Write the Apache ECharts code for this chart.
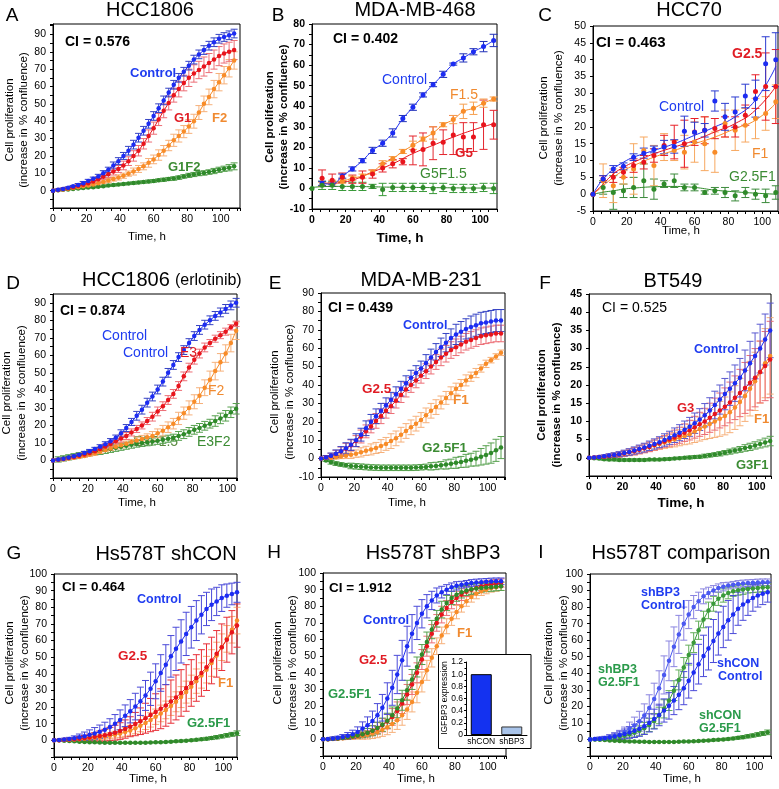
<!DOCTYPE html>
<html><head><meta charset="utf-8">
<script src="https://cdn.jsdelivr.net/npm/echarts/dist/echarts.min.js"></script>
<style>html,body{margin:0;padding:0;background:#fff}#c{width:779px;height:789px}</style>
</head><body><div id="c"></div>
<script>
// ---------- time bases ----------
const times3 = [0,3,6,9,12,15,18,21,24,27,30,33,36,39,42,45,48,51,54,57,60,63,66,69,72,75,78,81,84,87,90,93,96,99,102,105,108];
const timesD = [0,3,6,9,12,15,18,21,24,27,30,33,36,39,42,45,48,51,54,57,60,63,66,69,72,75,78,81,84,87,90,93,96,99,102,105];
const timesB = [6,12,18,24,30,36,42,48,54,60,66,72,78,84,90,96,102,108];
const times6 = [0,6,12,18,24,30,36,42,48,54,60,66,72,78,84,90,96,102,108];
const fitTimesB = [6,12,18,24,36,48,60,72,84,96,108];
const fitTimesB0 = [0,12,24,36,48,60,72,84,96,108];
const fitTimesC = [0,3,6,12,18,24,36,48,60,72,84,96,108];

// ---------- tick labels ----------
const xTickLabels = [0,20,40,60,80,100];
const yLabelsA = [0,10,20,30,40,50,60,70,80,90];
const yLabelsB = [-10,0,10,20,30,40,50,60,70,80];
const yLabelsC = [-5,0,5,10,15,20,25,30,35,40,45,50];
const yLabelsD = [0,10,20,30,40,50,60,70,80,90];
const yLabelsE = [-10,0,10,20,30,40,50,60,70,80,90];
const yLabelsF = [0,5,10,15,20,25,30,35,40,45];
const yLabelsGHI = [0,10,20,30,40,50,60,70,80,90,100];

// ---------- A: HCC1806 ----------
const aControl = [0,0.5,1,1.7,2.5,3.3,4.3,5.5,6.8,8.2,10,12,14.5,17,20,23,26.5,30.5,34.5,38.5,43,47.5,52,56.5,61,65,68.5,72,75.5,78.5,81,83.5,85.5,87.5,88.5,89.5,90.5];
const aControlErr = [0,0.5,0.5,0.5,0.5,0.8,1,1,1,1.2,1.5,1.5,2,2,2,2.5,2.5,2.5,2.5,2.5,2.5,2.5,2.5,2.5,2.5,2.5,2.5,2.5,2.5,2.5,2.5,2.5,2.5,2.5,2.5,2.5,2.5];
const aG1 = [0,0.4,0.9,1.4,2,2.7,3.4,4.3,5.3,6.5,8,9.5,11,12.5,14.5,17,20,23,27,31.5,36,41,46,50.5,55,58.5,62,65,67.5,69.5,71.5,73.5,75.5,77.5,79,80,81];
const aG1Err = [0,0.5,0.5,0.5,0.8,0.8,1,1,1.2,1.5,1.5,2,2,2,2.5,2.5,3,3,3,3.5,3.5,3.5,4,4,4,4.5,4.5,5,5,5,5.5,5.5,5.5,5.5,5.5,5.5,5.5];
const aF2 = [0,0.3,0.7,1.1,1.5,2,2.5,3,3.6,4.3,5,5.8,6.7,7.6,8.6,9.8,11,12.5,14,16,18,20.5,23,26,29,31.5,34,37,40,45,50,54,58.5,62.5,66.5,70.5,75];
const aF2Err = [0,0.5,0.5,0.5,0.5,0.5,0.8,0.8,1,1,1,1.2,1.2,1.5,1.5,1.5,2,2,2,2.5,2.5,3,3,3,3.5,3.5,3.5,4,4,4,4.5,4.5,5,5,5,5,5];
const aG1F2 = [0,0.2,0.5,0.7,1,1.2,1.5,1.8,2,2.3,2.6,2.9,3.2,3.5,3.8,4.1,4.4,4.7,5,5.3,5.6,6,6.3,6.7,7,7.5,8.2,8.8,9.3,9.8,10.2,10.7,11.3,12,12.6,13.2,14];
const aG1F2Err = [0,0.3,0.3,0.3,0.3,0.4,0.4,0.4,0.5,0.5,0.5,0.5,0.6,0.6,0.6,0.6,0.7,0.7,0.7,0.8,0.8,0.8,0.9,0.9,1,1,1,1.2,1.2,1.2,1.3,1.3,1.5,1.5,1.5,1.8,2];

// ---------- B: MDA-MB-468 ----------
const bControl = [2.5,2,6,9.5,13.5,18.5,22,27,34,39.5,45.5,50.5,55.5,60.5,63.5,66.5,69,72];
const bControlErr = [1,1,1,1,1,1.5,1.5,2,1.5,1.5,1,1,1.5,0.5,2,1.5,2.5,3];
const bF15 = [2,3,3.5,5,6,8,12,14.5,18,21,24,27,31,33.5,37.5,39,41.5,43.5];
const bF15Err = [1,1,1,1,1,1,1.5,1,1,2,1,3,1,2,3.5,3,2,1];
const bG5 = [5,4,5.5,4.5,5.5,7,10,12,13,18.5,19,22,22.5,26,25,25,31,31];
const bG5Err = [4,3,2,2,3,2,2,2,1.5,7,8,8,6,9.5,7,7,12,7];
const bG5Fit = [2.5,2.5,3,4,8,12,17,21,25,28.5,31.5];
const bGF = [0,1.5,1.5,1,1,1,1,-0.5,0.5,0.5,0.5,0.5,0,0.5,0,0,0,0.5,0];
const bGFErr = [0,2,2,2,2,2,1,3,2,2,2,2,2.5,2,2,2,2,2,2.5];
const bGFFit = [0.5,1,1,0.8,0.6,0.5,0.4,0.3,0.2,0.2];

// ---------- C: HCC70 ----------
const cControl = [0,4.5,7.5,8.3,11,12.2,13.3,14,14.2,18.7,18.4,19,27.7,23,24.4,29.2,28.4,38.8,40];
const cControlErr = [0,1,1,1,1,1.5,1,2,2,4.5,3,2,3,4,4.5,3.5,5.5,8,8];
const cControlFit = [0,2.5,4.5,7.5,9.5,11,13,15,17.5,20,23,28,38];
const cG2 = [0,4.5,5,6.5,8.5,9.5,11.5,14.5,15.5,15,18.5,19,19.5,20,20,23.5,30.5,32,32];
const cG2Err = [0,1,1.5,1.5,2,2,2,3,5,7,4,4,3,3,3,3,5,10,11];
const cG2Fit = [0,1.5,3,6,8,9.5,12,14,16,18.5,21,25,32];
const cF1 = [0,4,2.5,5,7.5,13,8.5,14,13,12.5,15.5,15,12.5,21,19,20.5,22.5,24,27.5];
const cF1Err = [0,5,5,2,7.5,4,6,4,3,5,6,8,6,4,6,5,6,5,5];
const cF1Fit = [0,1.2,2.5,5,7,8.5,11,13,15,17,19.5,22,27];
const cGF = [0,2,0.5,1,2,4,1.5,3,4,2,2,0.5,1,0.5,-0.5,0.5,0,-0.5,0.5];
const cGFErr = [0,2,5,2,3,5,3,1,2,1,1,0.5,1,1.5,1.5,1.5,1.5,2,2];
const cGFFit = [0,0.3,0.6,1,1.5,1.8,2.2,2.3,2,1.2,0.7,0.3,0];

// ---------- D: HCC1806 (erlotinib) ----------
const dControl = [0,0.5,1,1.7,2.4,3.2,4.2,5.3,6.5,7.8,9.2,11,13,15.5,18.5,22,25.5,29,33,36.5,40.5,45,50,54.5,59,63,67,71,74.5,77.5,80,82.5,84.5,86.5,88.5,90];
const dControlErr = [0,0.5,0.5,0.5,0.8,0.8,1,1,1,1.2,1.5,1.5,1.5,2,2,2,2.5,2.5,2.5,2.5,2.5,2.5,2.5,2.5,2.5,2.5,2.5,2.5,2.5,2.5,2.5,2.5,2.5,2.5,2.5,2.5];
const dE3 = [0,0.4,0.9,1.4,2,2.7,3.4,4.3,5.3,6.5,8,9.4,11,12.5,14,16,18,20,22.5,25,28,31,34.5,38,42.5,48,53,57.5,61,64.5,67,69.5,71.5,73.5,76,78];
const dE3Err = [0,0.5,0.5,0.5,0.8,0.8,1,1,1,1.2,1.5,1.5,1.5,2,2,2,2,2,2,2.5,2.5,2.5,2.5,2.5,2.5,2.5,2.5,2.5,2.5,2.5,2,2,2,2,1.5,1.5];
const dF2 = [0,0.3,0.7,1.1,1.5,2,2.6,3.3,4,5,6,6.9,7.8,8.7,9.6,10.5,11.4,12.3,13.2,14,15.5,17,19,21,24,27,30,33.5,37,41.5,46,51,56,61,67,74];
const dF2Err = [0,0.5,0.5,0.5,0.5,0.5,0.8,0.8,1,1,1,1.2,1.2,1.5,1.5,1.5,2,2,2,2.5,2.5,3,3,3,3.5,3.5,4,4,4.5,4.5,5,5,5,5,5,5];
const dE3F2 = [0,0.6,1.2,1.8,2.4,3,3.6,4.2,4.8,5.4,6,6.6,7.2,7.8,8.4,9,9.6,10,10.4,10.8,11.2,11.8,12.4,13,14,15,16.3,17.5,18.6,19.8,21,22.5,24,25.5,27.5,29.5];
const dE3F2Err = [0,1.5,1.5,1.5,1.5,1.5,1.5,1.5,1.5,2,2,2,2,2,2,2,2,2,2,2,2,2,2,2,2.5,2.5,2.5,2.5,2.5,2.5,2.5,3,3,3,3,3];

// ---------- E: MDA-MB-231 ----------
const eControl = [0,0.6,1.5,2.7,4,5.6,7.5,10,13,16.5,20,23,26,29,32,35,38,41,44,46.5,49,52,55,58,60.5,63,65.5,67.5,69,70.5,71.5,72.5,73.5,74,74.5,75,75];
const eControlErr = [0,1,1.5,2,2.5,3,3,3.5,3.5,4,4,4,4,4,4,4,4,4,4,4,4,4.5,4.5,4.5,5,5,5,5.5,5.5,5.5,6,6,6,6,6,6,6];
const eG25 = [0,0.6,1.4,2.5,3.8,5.3,7.2,9.5,12,14.8,17.5,20.5,23,26,28.5,31.5,34.5,37.5,40,42.5,45,47.5,50,52.5,55,57,59,60.5,62,63.5,64.5,65.5,66.5,67,67.5,68,68];
const eG25Err = [0,1,1.5,2,2.5,3,3,3,3.5,3.5,3.5,4,4,4,4,4,4,4,4,4,4,4,4,4,4.5,4.5,4.5,4.5,4.5,4.5,4.5,4.5,4.5,4.5,4.5,4.5,4.5];
const eF1 = [0,0.3,0.5,0.8,1.2,1.6,2.1,2.7,3.4,4.2,5,5.8,6.8,8,9.5,11,13,15,17,19,21,23.5,26,28,30.5,33,35.5,38,40,42.5,44.5,46.5,49,51.5,53.5,55.5,57.5];
const eF1Err = [0,0.5,0.8,1,1.2,1.5,2,2,2.5,2.5,3,3,3.5,3.5,4,4,4,4,4,4,4,4,4,4,3.5,3.5,3.5,3,3,3,2.5,2.5,2,2,1.5,1.5,1.5];
const eG25F1 = [0,-1,-2,-2.7,-3.2,-3.6,-4,-4.2,-4.4,-4.6,-4.8,-4.9,-5,-5,-5,-5,-5,-5,-5,-4.9,-4.7,-4.5,-4.2,-4,-3.6,-3.2,-2.8,-2.3,-1.8,-1.2,-0.6,0,1,2,3,4.5,6];
const eG25F1Err = [0,0.5,1,1,1,1,1.5,1.5,1.5,1.5,1.5,1.5,1.5,1.5,1.5,1.5,1.5,1.5,1.5,1.5,1.5,1.5,2,2,2,2.5,2.5,3,3,3.5,3.5,4,4.5,5,5.5,6,6];

// ---------- F: BT549 ----------
const fControl = [0,0.1,0.2,0.4,0.6,0.8,1,1.3,1.6,2,2.4,2.8,3.3,3.8,4.3,4.9,5.5,6.2,6.9,7.7,8.5,9.5,10.5,11.7,13,14.5,16,17.5,19,20.5,22,24,26,28,30,32.5,35];
const fControlErr = [0,0.2,0.3,0.4,0.5,0.6,0.7,0.8,0.9,1,1.1,1.2,1.3,1.4,1.5,1.7,1.8,2,2.2,2.4,2.6,2.8,3,3.2,3.5,3.8,4,4.3,4.6,5,5.3,5.6,6,6.3,6.7,7,7.5];
const fG3 = [0,0.1,0.2,0.3,0.5,0.7,0.9,1.2,1.5,1.8,2.2,2.6,3,3.5,4,4.5,5,5.6,6.2,6.9,7.6,8.4,9.2,10,11,12,13,14,15.2,16.5,17.8,19.2,20.6,22,23.6,25.2,27];
const fG3Err = [0,0.2,0.3,0.4,0.5,0.6,0.7,0.8,0.9,1,1.1,1.2,1.3,1.4,1.5,1.6,1.8,2,2.2,2.4,2.7,3,3.3,3.6,4,4.4,4.8,5.2,5.6,6,6.5,7,7.5,8,8.5,9.5,10.5];
const fF1 = [0,0.1,0.2,0.3,0.5,0.7,0.9,1.2,1.5,1.8,2.2,2.6,3,3.4,3.8,4.2,4.6,5,5.5,6,6.5,7.2,7.9,8.6,9.3,10,10.7,11.5,12.5,13.8,15.3,17,19,21,23.5,26,28];
const fF1Err = [0,0.2,0.3,0.4,0.5,0.6,0.7,0.8,0.9,1,1.1,1.2,1.3,1.4,1.5,1.6,1.8,2,2.2,2.4,2.7,3,3.3,3.6,4,4.4,4.8,5.2,5.6,6,6.5,7,7.5,8,8.5,9.5,10.5];
const fG3F1 = [0,-0.1,-0.2,-0.4,-0.5,-0.5,-0.6,-0.6,-0.6,-0.6,-0.6,-0.6,-0.5,-0.5,-0.5,-0.4,-0.3,-0.2,-0.1,0,0.1,0.2,0.3,0.5,0.7,0.9,1.1,1.4,1.7,2,2.3,2.7,3,3.4,3.8,4.2,4.6];
const fG3F1Err = [0,0.3,0.3,0.3,0.3,0.3,0.3,0.3,0.3,0.3,0.3,0.3,0.3,0.3,0.3,0.3,0.3,0.3,0.3,0.3,0.4,0.4,0.4,0.5,0.5,0.5,0.6,0.6,0.7,0.7,0.8,0.9,1,1,1.1,1.2,1.3];

// ---------- G: Hs578T shCON ----------
const gControl = [0,0.2,0.5,0.8,1.2,1.8,2.5,3.3,4.2,5.2,6.4,8,10,12.3,14.8,17.5,20.3,23.5,27,31,35.5,40.5,45.5,50.5,55,59.5,64,68,72,75.5,79,81.5,83.5,85.5,87,88,89];
const gControlErr = [0,0.5,0.8,1,1.5,2,2.5,3,3.5,4,4.5,5,5.5,6,6.5,7,8,8.5,9,10,10.5,11,12,12.5,13,13,13,12.5,12,11.5,10,9.5,8.5,8,7,6.5,6];
const gG25 = [0,0.1,0.3,0.5,0.7,1,1.3,1.7,2.1,2.6,3.1,3.8,4.6,5.6,6.8,8.2,9.8,11.5,13.3,15.2,17,19,21,23.3,25.8,28.5,31.5,34.5,37.5,40.5,44,48,52,56,60.5,65,69];
const gG25Err = [0,0.3,0.5,0.8,1,1.3,1.6,2,2.5,3,3.5,4,4.5,5,5.5,6,7,8,9,10,11,12,12.5,13,13.5,14,14,14,14,14,14,14,14,14,13.5,13,13];
const gF1 = [0,0.1,0.2,0.3,0.5,0.7,0.9,1.2,1.5,1.9,2.3,2.8,3.4,4.1,5,6,7.3,8.8,10.5,12.3,14.2,16.2,18.3,20.6,23.2,26,29,32.2,35.6,39,42.5,46.5,51,56,61,66.5,72];
const gF1Err = [0,0.2,0.3,0.4,0.5,0.6,0.8,1,1.2,1.4,1.6,1.8,2,2.3,2.6,3,3.3,3.6,4,4.3,4.6,5,5.3,5.6,6,6.3,6.6,7,7.3,7.6,8,8,8,8,8,8,8];
const gG25F1 = [0,0,-0.2,-0.4,-0.6,-0.8,-1,-1.1,-1.2,-1.3,-1.4,-1.4,-1.5,-1.5,-1.5,-1.5,-1.5,-1.5,-1.4,-1.3,-1.2,-1.1,-1,-0.8,-0.6,-0.4,-0.2,0,0.3,0.6,1,1.4,1.9,2.4,3,3.6,4.3];
const gG25F1Err = [0,0.3,0.3,0.3,0.3,0.3,0.3,0.3,0.3,0.3,0.3,0.3,0.3,0.3,0.3,0.3,0.3,0.3,0.3,0.3,0.3,0.4,0.4,0.4,0.5,0.5,0.5,0.6,0.6,0.7,0.8,0.9,1,1,1.1,1.2,1.4];

// ---------- H: Hs578T shBP3 ----------
const hControl = [0,0.2,0.5,0.9,1.4,2.1,3,4.5,6.5,8.5,11,14.5,19,24.5,31,39,47.5,56,63.5,70,75.5,80,83.5,86.5,88.5,90,91.5,92.3,93,93.5,94,94.3,94.5,94.7,94.9,95,95];
const hControlErr = [0,0.5,1,1,1.5,2,2.5,3,4,5,6,7,8,9.5,10.5,11.5,12,12,11.5,10,8.5,7,5.5,4.5,3.5,3,2.5,2.5,2,2,2,2,2,2,2,2,2];
const hG25 = [0,0.1,0.3,0.5,0.8,1.2,1.7,2.3,3,4,5.2,6.7,8.5,10.8,13.5,17,21.5,27,33,40,48,56,63.5,70,75,79,82.5,85,87,88.8,90,91,92,92.7,93.2,93.6,94];
const hG25Err = [0,0.3,0.5,0.5,0.8,1,1.2,1.5,2,2.5,3,3.5,4,4.5,5,5.5,6,6,6,6,6,6,5.5,5,5,4.5,4,4,3.5,3,3,3,2.5,2.5,2.5,2.5,2.5];
const hF1 = [0,0.1,0.2,0.4,0.6,0.9,1.2,1.6,2.1,2.7,3.5,4.5,5.8,7.3,9.2,11.5,14.5,18,22.5,28,34.5,41.5,49,56,62.5,68,72.5,76.5,80,83,85.5,87.5,89,90,91,91.5,92];
const hF1Err = [0,0.3,0.5,0.5,0.8,1,1.2,1.5,2,2.5,3,3.5,4,4.5,5,5.5,6,6,6,6,6,6,5.5,5,5,4.5,4,4,3.5,3,3,3,2.5,2.5,2.5,2.5,2.5];
const hG25F1 = [0,0.1,0.3,0.5,0.8,1.2,1.7,2.3,3,4,5.2,6.8,8.8,11.2,14.5,18.5,23.5,29.5,36,43.5,51,58.5,66,72.5,78,82,85,87,88.5,89.5,90.2,90.7,91,91.3,91.5,91.8,92];
const hG25F1Err = [0,0.3,0.5,0.5,0.8,1,1.2,1.5,2,2.5,3,3.5,4,4.5,5,5.5,6,6,6,6,6,6,5.5,5,5,4.5,4,4,3.5,3,3,3,2.5,2.5,2.5,2.5,2.5];

// ---------- H inset ----------
const insetCats = ['shCON','shBP3'];
const insetVals = [1.0, 0.14];
const insetTicks = [0,0.2,0.4,0.6,0.8,1.0,1.2];

const FONT = '"Liberation Sans", Arial, Helvetica, sans-serif';
const BLUE='#1c2cf2', RED='#e8141c', ORANGE='#f88c28', GREEN='#2f8a2a';
const BLUE_E='#3442c4', RED_E='#ec6e76', ORANGE_E='#f6b07a', GREEN_E='#56a04e';
const T_BLUE='#1f3cf0', T_RED='#e01c24', T_ORANGE='#f08a30', T_GREEN='#3c8c34';

// grid layout: [left, top, width, height, xMax, yMin, yMax, yLabels, bold]
const layout = [
  [53,24,187,184,111.5,-10,96,yLabelsA,false],
  [312,24,185,185,110,-10,80,yLabelsB,true],
  [593,26,185,185,109.3,-5,50,yLabelsC,false],
  [53,294,184,184,105.5,-10,95,yLabelsD,false],
  [321,293,184,184,110.4,-10,90,yLabelsE,false],
  [589,294,182,182,108.5,-5,45,yLabelsF,true],
  [54,574,183,183,108,-10,100,yLabelsGHI,false],
  [323,573,183,183,111,-10,100,yLabelsGHI,false],
  [590,574,181,182,110,-10,100,yLabelsGHI,false]
];

const grids=[], xAxes=[], yAxes=[], series=[];
const near = (arr,v)=>arr.some(l=>Math.abs(l-v)<1e-6);
layout.forEach((L,i)=>{
  grids.push({left:L[0],top:L[1],width:L[2],height:L[3],show:true,borderColor:'#000',borderWidth:1,backgroundColor:'transparent',containLabel:false,outerBoundsMode:'none'});
  xAxes.push({gridIndex:i,type:'value',min:0,max:L[4],interval:5,
    axisLine:{show:true,onZero:false,lineStyle:{color:'#000',width:1}},
    axisTick:{show:true,length:3,lineStyle:{color:'#000',width:1}},
    axisLabel:{show:true,color:'#000',fontSize:10.5,fontWeight:L[8]?'bold':'normal',fontFamily:FONT,margin:6,
      formatter:v=>near(xTickLabels,v)?String(Math.round(v)):'' ,showMaxLabel:true,showMinLabel:true},
    splitLine:{show:false}});
  yAxes.push({gridIndex:i,type:'value',min:L[5],max:L[6],interval:5,
    axisLine:{show:true,onZero:false,lineStyle:{color:'#000',width:1}},
    axisTick:{show:true,length:3,lineStyle:{color:'#000',width:1}},
    axisLabel:{show:true,color:'#000',fontSize:10.5,fontWeight:L[8]?'bold':'normal',fontFamily:FONT,margin:7,
      formatter:v=>near(L[7],v)?String(Math.round(v)):'',showMaxLabel:true,showMinLabel:true},
    splitLine:{show:false}});
});
// inset grid (index 9)
grids.push({left:466,top:662,width:61,height:73,show:false,containLabel:false,outerBoundsMode:'none'});
xAxes.push({gridIndex:9,type:'category',data:insetCats,z:60,
  axisLine:{show:true,lineStyle:{color:'#000',width:1}},axisTick:{show:false},
  axisLabel:{color:'#000',fontSize:8.5,fontFamily:FONT,margin:2,interval:0},splitLine:{show:false}});
yAxes.push({gridIndex:9,type:'value',min:0,max:1.2,interval:0.2,z:60,
  axisLine:{show:true,lineStyle:{color:'#000',width:1}},
  axisTick:{show:true,length:2,lineStyle:{color:'#000'}},
  minorTick:{show:true,splitNumber:2,length:1.5,lineStyle:{color:'#000'}},
  axisLabel:{color:'#000',fontSize:8.5,fontFamily:FONT,margin:3,
    formatter:v=>{const r=Math.round(v*10)/10; return near(insetTicks,r)?(r===0?'0':r.toFixed(1)):'';}},
  splitLine:{show:false}});

function errSeries(gi,t,v,e,ecol,cap,z){
  series.push({type:'custom',xAxisIndex:gi,yAxisIndex:gi,dimensions:['t','v','e'],encode:{x:'t',y:'v'},
    data:t.map((x,i)=>[x,v[i],e[i]||0]),z:z||2,silent:true,animation:false,
    renderItem:function(params,api){
      const x=api.value(0),y=api.value(1),er=api.value(2);
      if(!er) return null;
      const a=api.coord([x,y+er]),b=api.coord([x,y-er]);
      const st={stroke:ecol,lineWidth:1,fill:null};
      return {type:'group',children:[
        {type:'line',shape:{x1:a[0],y1:a[1],x2:b[0],y2:b[1]},style:st},
        {type:'line',shape:{x1:a[0]-cap,y1:a[1],x2:a[0]+cap,y2:a[1]},style:st},
        {type:'line',shape:{x1:b[0]-cap,y1:b[1],x2:b[0]+cap,y2:b[1]},style:st}]};
    }});
}
function lineSeries(gi,t,v,col,o){ o=o||{};
  series.push({type:'line',xAxisIndex:gi,yAxisIndex:gi,data:t.map((x,i)=>[x,v[i]]),
    symbol:o.noSym?'none':'circle',symbolSize:o.ss||4.5,showSymbol:!o.noSym,showAllSymbol:true,
    smooth:o.smooth||false,itemStyle:{color:col},lineStyle:{color:o.lc||col,width:o.lw||1},
    z:o.z||3,silent:true,animation:false});
}
function scatterSeries(gi,t,v,col,ss,z){
  series.push({type:'scatter',xAxisIndex:gi,yAxisIndex:gi,data:t.map((x,i)=>[x,v[i]]),symbol:'circle',symbolSize:ss||5,
    itemStyle:{color:col,opacity:1},z:z||4,silent:true,animation:false});
}
function dense(gi,t,v,e,col,ecol,cap,ss){ errSeries(gi,t,v,e,ecol,cap||3.5); lineSeries(gi,t,v,col,{ss:ss||4.5}); }

// A
dense(0,times3,aG1F2,aG1F2Err,GREEN,GREEN_E);
dense(0,times3,aF2,aF2Err,ORANGE,ORANGE_E);
dense(0,times3,aG1,aG1Err,RED,RED_E);
dense(0,times3,aControl,aControlErr,BLUE,BLUE_E);
// B
errSeries(1,times6,bGF,bGFErr,'#3a9a3a',4);
lineSeries(1,fitTimesB0,bGFFit,GREEN,{noSym:true,smooth:true});
scatterSeries(1,times6,bGF,GREEN,5);
errSeries(1,timesB,bG5,bG5Err,'#e4262e',4);
lineSeries(1,fitTimesB,bG5Fit,RED,{noSym:true,smooth:true});
scatterSeries(1,timesB,bG5,RED,5);
errSeries(1,timesB,bF15,bF15Err,'#f6a050',4);
lineSeries(1,timesB,bF15,ORANGE,{smooth:0.4,ss:5});
errSeries(1,timesB,bControl,bControlErr,'#2030b8',4);
lineSeries(1,timesB,bControl,BLUE,{smooth:0.4,ss:5});
// C
errSeries(2,times6,cGF,cGFErr,'#3a8a3a',4);
errSeries(2,times6,cF1,cF1Err,'#f7a860',4);
errSeries(2,times6,cG2,cG2Err,'#e82028',4);
errSeries(2,times6,cControl,cControlErr,'#2a3ad0',4);
lineSeries(2,fitTimesC,cGFFit,GREEN,{noSym:true,smooth:true});
lineSeries(2,fitTimesC,cF1Fit,ORANGE,{noSym:true,smooth:true});
lineSeries(2,fitTimesC,cG2Fit,RED,{noSym:true,smooth:true});
lineSeries(2,fitTimesC,cControlFit,BLUE,{noSym:true,smooth:true});
scatterSeries(2,times6,cGF,GREEN,5);
scatterSeries(2,times6,cF1,ORANGE,5);
scatterSeries(2,times6,cG2,RED,5);
scatterSeries(2,times6,cControl,BLUE,5);
// D
dense(3,timesD,dE3F2,dE3F2Err,GREEN,GREEN_E);
dense(3,timesD,dF2,dF2Err,ORANGE,ORANGE_E);
dense(3,timesD,dE3,dE3Err,RED,RED_E);
dense(3,timesD,dControl,dControlErr,BLUE,BLUE_E);
// E
dense(4,times3,eG25F1,eG25F1Err,GREEN,GREEN_E);
dense(4,times3,eF1,eF1Err,ORANGE,ORANGE_E);
dense(4,times3,eG25,eG25Err,RED,RED_E);
dense(4,times3,eControl,eControlErr,BLUE,BLUE_E);
// F
dense(5,times3,fG3F1,fG3F1Err,GREEN,GREEN_E);
dense(5,times3,fF1,fF1Err,ORANGE,ORANGE_E);
dense(5,times3,fG3,fG3Err,RED,RED_E);
dense(5,times3,fControl,fControlErr,BLUE,'#5a5ad0');
// G
dense(6,times3,gG25F1,gG25F1Err,GREEN,GREEN_E);
dense(6,times3,gF1,gF1Err,ORANGE,ORANGE_E);
dense(6,times3,gG25,gG25Err,RED,'#e83038');
dense(6,times3,gControl,gControlErr,BLUE,'#4a4ad8');
// H
dense(7,times3,hF1,hF1Err,ORANGE,ORANGE_E);
dense(7,times3,hG25,hG25Err,RED,RED_E);
dense(7,times3,hG25F1,hG25F1Err,GREEN,GREEN_E);
dense(7,times3,hControl,hControlErr,BLUE,'#4a4ad8');
// I (same experiments as G and H)
dense(8,times3,gG25F1,gG25F1Err,GREEN,GREEN_E);
dense(8,times3,hG25F1,hG25F1Err,'#3a9a3a','#62ad5a');
dense(8,times3,hControl,hControlErr,'#4a58f0','#8a84e0');
dense(8,times3,gControl,gControlErr,BLUE,'#4a4ad8');
// inset bars
series.push({type:'bar',xAxisIndex:9,yAxisIndex:9,barWidth:21,z:60,silent:true,animation:false,
  data:[{value:insetVals[0],itemStyle:{color:'#1432f0',borderColor:'#000',borderWidth:1}},
        {value:insetVals[1],itemStyle:{color:'#a9c4ea',borderColor:'#333',borderWidth:1}}]});

// ---------- texts ----------
const G=[];
function T(x,y,s,o){o=o||{};
  G.push({type:'text',x:x,y:y,rotation:o.rot||0,z:o.z!=null?o.z:100,silent:true,
    style:{text:s,fill:o.c||'#000',fontSize:o.fs||12,fontWeight:o.w||'normal',fontFamily:FONT,
      align:o.a||'left',verticalAlign:'middle'}});}
// inset box
G.push({type:'rect',shape:{x:438.5,y:654.5,width:92.5,height:94},style:{fill:'#fff',stroke:'#000',lineWidth:1},z:50,silent:true});
T(445,698,'IGFBP3 expression',{rot:Math.PI/2,a:'center',fs:8.5,z:61});

// panel letters
[['A',12,16],['B',278,16],['C',545,16],['D',13,284],['E',275,284],['F',545,284],['G',14,554],['H',274,553],['I',541,553]]
  .forEach(l=>T(l[1],l[2],l[0],{a:'center',fs:19}));
// titles
T(150,10,'HCC1806',{a:'center',fs:20});
T(415,10,'MDA-MB-468',{a:'center',fs:20});
T(689,10,'HCC70',{a:'center',fs:20});
T(82,280,'HCC1806',{fs:20});
T(175,281,'(erlotinib)',{fs:16});
T(421,280,'MDA-MB-231',{a:'center',fs:20});
T(673,281,'BT549',{a:'center',fs:20});
T(166,554,'Hs578T shCON',{a:'center',fs:20});
T(433,553,'Hs578T shBP3',{a:'center',fs:20});
T(681,553,'Hs578T comparison',{a:'center',fs:20});
// axis names
const yName=[[10,24,120,false],[270,284,117,true],[544,559,118,false],[7,22,393,false],[275,290,392,false],[542,557,395,true],[10,25,663,false],[278,293,663,false],[549,564,663,false]];
yName.forEach(p=>{T(p[0],p[2],'Cell proliferation',{rot:Math.PI/2,a:'center',fs:11.5,w:p[3]?'bold':'normal'});
  T(p[1],p[2],'(increase in % confluence)',{rot:Math.PI/2,a:'center',fs:11.5,w:p[3]?'bold':'normal'});});
const xName=[[147,237,false],[400,238,true],[681,231,false],[137,503,false],[407,503,false],[681,503,true],[148,779,false],[416,779,false],[682,779,false]];
xName.forEach(p=>T(p[0],p[1],'Time, h',{a:'center',fs:p[2]?13.5:11.5,w:p[2]?'bold':'normal'}));
// CI
T(65,42,'CI = 0.576',{fs:14,w:'bold'});
T(333,39,'CI = 0.402',{fs:14,w:'bold'});
T(596,43,'CI = 0.463',{fs:15,w:'bold'});
T(60,311,'CI = 0.874',{fs:14,w:'bold'});
T(328,308,'CI = 0.439',{fs:14,w:'bold'});
T(602,308,'CI = 0.525',{fs:14});
T(62,587,'CI = 0.464',{fs:13.5,w:'bold'});
T(329,588,'CI = 1.912',{fs:13.5,w:'bold'});
// series labels
T(130,73,'Control',{c:T_BLUE,fs:13,w:'bold'});
T(174,118,'G1',{c:T_RED,fs:13,w:'bold'});
T(212,118,'F2',{c:T_ORANGE,fs:13,w:'bold'});
T(168,167,'G1F2',{c:T_GREEN,fs:13,w:'bold'});

T(382,80,'Control',{c:T_BLUE,fs:14});
T(450,95,'F1.5',{c:T_ORANGE,fs:14});
T(455,153,'G5',{c:T_RED,fs:13.5,w:'bold'});
T(420,174,'G5F1.5',{c:T_GREEN,fs:14});

T(732,54,'G2.5',{c:T_RED,fs:14,w:'bold'});
T(659,107,'Control',{c:T_BLUE,fs:14});
T(752,154,'F1',{c:T_ORANGE,fs:14});
T(729,177,'G2.5F1',{c:T_GREEN,fs:14});

T(102,336,'Control',{c:T_BLUE,fs:14});
T(123,353,'Control',{c:T_BLUE,fs:14});
T(180,353,'E3',{c:T_RED,fs:14});
T(208,391,'F2',{c:T_ORANGE,fs:14});
T(133,442,'E3F1.5',{c:'#5a8a40',fs:14,z:1});
T(197,442,'E3F2',{c:T_GREEN,fs:14});

T(403,326,'Control',{c:T_BLUE,fs:12.5,w:'bold'});
T(362,389,'G2.5',{c:T_RED,fs:13.5,w:'bold'});
T(453,400,'F1',{c:T_ORANGE,fs:13.5,w:'bold'});
T(422,448,'G2.5F1',{c:T_GREEN,fs:13.5,w:'bold'});

T(694,350,'Control',{c:T_BLUE,fs:12.5,w:'bold'});
T(677,408,'G3',{c:T_RED,fs:13,w:'bold'});
T(754,419,'F1',{c:T_ORANGE,fs:13,w:'bold'});
T(736,465,'G3F1',{c:T_GREEN,fs:13,w:'bold'});

T(137,600,'Control',{c:T_BLUE,fs:12.5,w:'bold'});
T(118,656,'G2.5',{c:T_RED,fs:13.5,w:'bold'});
T(218,683,'F1',{c:T_ORANGE,fs:13,w:'bold'});
T(187,723,'G2.5F1',{c:'#2a9a4a',fs:13,w:'bold'});

T(363,620,'Control',{c:T_BLUE,fs:13,w:'bold'});
T(457,633,'F1',{c:T_ORANGE,fs:13,w:'bold'});
T(359,660,'G2.5',{c:T_RED,fs:13,w:'bold'});
T(328,694,'G2.5F1',{c:'#2a9a4a',fs:13,w:'bold'});

T(641,593,'shBP3',{c:T_BLUE,fs:12.5,w:'bold'});
T(641,606,'Control',{c:T_BLUE,fs:12.5,w:'bold'});
T(598,670,'shBP3',{c:'#2a9a4a',fs:12.5,w:'bold'});
T(598,683,'G2.5F1',{c:'#2a9a4a',fs:12.5,w:'bold'});
T(717,664,'shCON',{c:T_BLUE,fs:12.5,w:'bold'});
T(718,677,'Control',{c:T_BLUE,fs:12.5,w:'bold'});
T(699,716,'shCON',{c:'#2a9a4a',fs:12.5,w:'bold'});
T(699,729,'G2.5F1',{c:'#2a9a4a',fs:12.5,w:'bold'});

const chart = echarts.init(document.getElementById('c'),null,{renderer:'canvas'});
chart.setOption({animation:false,backgroundColor:'#fff',textStyle:{fontFamily:FONT},
  grid:grids,xAxis:xAxes,yAxis:yAxes,series:series,graphic:{elements:G}});
</script></body></html>
